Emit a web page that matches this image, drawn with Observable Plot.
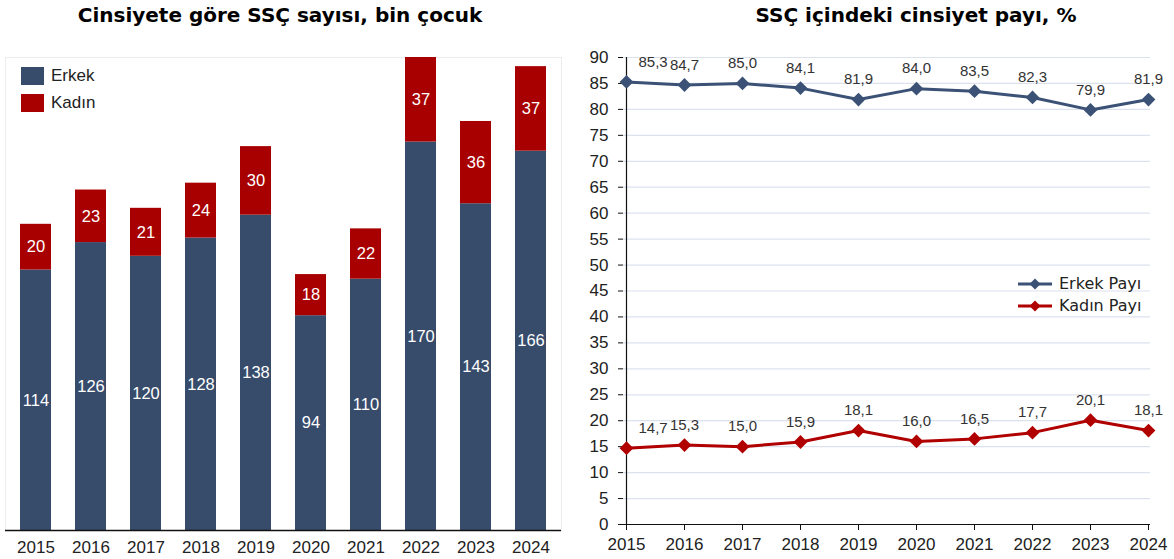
<!DOCTYPE html>
<html><head><meta charset="utf-8">
<script src="https://cdn.jsdelivr.net/npm/d3@7"></script>
<script src="https://cdn.jsdelivr.net/npm/@observablehq/plot@0.6"></script>
<style>
body{margin:0;background:#fff;}
#wrap{position:relative;width:1174px;height:559px;overflow:hidden;font-family:"Liberation Sans",Arial,sans-serif;background:#fff;}
#wrap > svg, #wrap > figure{position:absolute;top:0;margin:0;}
.title{position:absolute;top:3px;font-family:"DejaVu Sans","Liberation Sans",sans-serif;font-weight:bold;font-size:20px;color:#000;white-space:nowrap;transform:translateX(-50%);line-height:24px;z-index:2;}
.lg{position:absolute;display:flex;align-items:center;font-size:17px;color:#222;z-index:2;white-space:nowrap;}
.sw{width:23px;height:18px;margin-right:7px;}
.lg2{font-family:"DejaVu Sans","Liberation Sans",sans-serif;font-size:16px;}
#err{position:absolute;left:600px;top:100px;color:red;font-size:12px;white-space:pre-wrap;width:560px;}
</style></head>
<body>
<div id="wrap"></div>
<script>
const years = [2015, 2016, 2017, 2018, 2019, 2020, 2021, 2022, 2023, 2024];
const erkek = [114, 126, 120, 128, 138, 94, 110, 170, 143, 166];
const kadin = [20, 23, 21, 24, 30, 18, 22, 37, 36, 37];
const erkekPay = [85.3, 84.7, 85.0, 84.1, 81.9, 84.0, 83.5, 82.3, 79.9, 81.9];
const kadinPay = [14.7, 15.3, 15.0, 15.9, 18.1, 16.0, 16.5, 17.7, 20.1, 18.1];
const seriesBar = ["Erkek", "Kadın"];
const seriesLine = ["Erkek Payı", "Kadın Payı"];
const barColors = ["#374b6b", "#a80000"];
const lineColors = ["#3b5276", "#b00000"];

const wrap = document.getElementById("wrap");

const barData = years.flatMap((y, i) => [
  {year: y, sex: seriesBar[0], value: erkek[i]},
  {year: y, sex: seriesBar[1], value: kadin[i]}
]);

const left = Plot.plot({
  width: 574, height: 559,
  marginLeft: 5, marginRight: 13, marginTop: 57, marginBottom: 29,
  style: {fontFamily: "Liberation Sans, Arial, sans-serif", fontSize: "17px", color: "#222", background: "transparent"},
  x: {type: "band", domain: years, paddingInner: 0.44, paddingOuter: 0.22, label: null},
  y: {domain: [0, 207], axis: null},
  color: {domain: seriesBar, range: barColors},
  marks: [
    Plot.frame({stroke: "#ececec"}),
    Plot.barY(barData, {x: "year", y: "value", fill: "sex", z: "sex", order: seriesBar}),
    Plot.text(barData, Plot.stackY({x: "year", y: "value", z: "sex", order: seriesBar, text: d => String(d.value), fill: "white", fontSize: 16.5})),
    Plot.ruleY([0], {stroke: "#111", strokeWidth: 1.5}),
    Plot.axisX({tickSize: 0, tickPadding: 10, fontSize: 17, tickFormat: d => String(d), fill: "#222", label: null})
  ]
});
left.style.left = "0px";
wrap.appendChild(left);

const diamond = {
  draw(context, size) {
    const r = Math.sqrt(size / 2);
    context.moveTo(0, -r);
    context.lineTo(r, 0);
    context.lineTo(0, r);
    context.lineTo(-r, 0);
    context.closePath();
  }
};

try {
  const lineData = years.flatMap((y, i) => [
    {year: y, series: seriesLine[0], value: erkekPay[i], i},
    {year: y, series: seriesLine[1], value: kadinPay[i], i}
  ]);
  const fmt = v => v.toFixed(1).replace(".", ",");

  const right = Plot.plot({
    width: 600, height: 559,
    marginLeft: 49, marginRight: 24, marginTop: 57, marginBottom: 35,
    style: {fontFamily: "Liberation Sans, Arial, sans-serif", fontSize: "17px", color: "#222", background: "transparent"},
    x: {type: "point", domain: years, padding: 0, label: null},
    y: {domain: [0, 90], label: null},
    color: {domain: seriesLine, range: lineColors},
    marks: [
      Plot.gridY(d3.range(5, 91, 5), {stroke: "#dbe2ee", strokeOpacity: 1, strokeWidth: 1.2}),
      Plot.axisY(d3.range(0, 91, 5), {tickSize: 5, tickPadding: 10, fontSize: 17, fill: "#222", stroke: "#111", label: null}),
      Plot.axisX({tickSize: 6, tickPadding: 7, fontSize: 17, tickFormat: d => String(d), fill: "#222", stroke: "#111", label: null}),
      Plot.ruleX([years[0]], {stroke: "#111", strokeWidth: 1.2}),
      Plot.ruleY([0], {stroke: "#111", strokeWidth: 1.2}),
      Plot.line(lineData, {x: "year", y: "value", stroke: "series", z: "series", strokeWidth: 3}),
      Plot.dot(lineData, {x: "year", y: "value", fill: "series", symbol: diamond, r: 5.5}),
      Plot.text(lineData.filter(d => d.i > 0), {x: "year", y: "value", text: d => fmt(d.value), dy: -20, fontSize: 15, fill: "#333"}),
      Plot.text(lineData.filter(d => d.i === 0), {x: "year", y: "value", text: d => fmt(d.value), dy: -20, dx: 12, textAnchor: "start", fontSize: 15, fill: "#333"})
    ]
  });
  right.style.left = "574px";
  wrap.appendChild(right);
} catch (e) {
  const d = document.createElement("div"); d.id = "err"; d.textContent = String(e && e.stack || e); wrap.appendChild(d);
}

// titles
const t1 = document.createElement("div");
t1.className = "title"; t1.style.left = "280px"; t1.textContent = "Cinsiyete göre SSÇ sayısı, bin çocuk";
wrap.appendChild(t1);
const t2 = document.createElement("div");
t2.className = "title"; t2.style.left = "916px"; t2.textContent = "SSÇ içindeki cinsiyet payı, %";
wrap.appendChild(t2);

// left legend
seriesBar.forEach((s, k) => {
  const d = document.createElement("div");
  d.className = "lg";
  d.style.left = "21px"; d.style.top = (66 + k * 27) + "px";
  d.innerHTML = `<span class="sw" style="background:${barColors[k]}"></span><span>${s}</span>`;
  wrap.appendChild(d);
});
// right legend
seriesLine.forEach((s, k) => {
  const d = document.createElement("div");
  d.className = "lg lg2";
  d.style.left = "1017px"; d.style.top = (274 + k * 22) + "px";
  d.innerHTML = `<svg width="36" height="14" style="margin-right:6px"><line x1="1" y1="7" x2="35" y2="7" stroke="${lineColors[k]}" stroke-width="3"/><path d="M18,1.5L23.5,7L18,12.5L12.5,7Z" fill="${lineColors[k]}"/></svg><span>${s}</span>`;
  wrap.appendChild(d);
});
</script>
</body></html>
